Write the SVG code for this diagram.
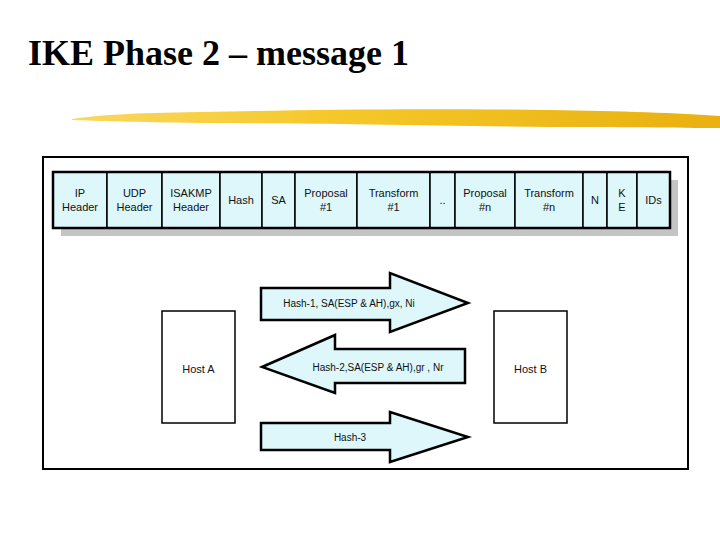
<svg xmlns="http://www.w3.org/2000/svg" width="720" height="540" viewBox="0 0 720 540">
<style>
.cell{fill:#ddf7fb;stroke:#000;stroke-width:1.5}
.ht{font-family:"Liberation Sans",Arial,sans-serif;font-size:11px;fill:#111;text-anchor:middle}
.at{font-family:"Liberation Sans",Arial,sans-serif;font-size:10px;fill:#111;text-anchor:middle}
.arrow{fill:#ddf7fb;stroke:#000;stroke-width:2.5;stroke-linejoin:miter}
.host{fill:#fff;stroke:#000;stroke-width:1.5}
</style>
<defs>
<linearGradient id="brush" x1="0" y1="0" x2="1" y2="0">
<stop offset="0" stop-color="#f9d860"/>
<stop offset="0.4" stop-color="#f5c82a"/>
<stop offset="1" stop-color="#e9b010"/>
</linearGradient>
</defs>
<rect width="720" height="540" fill="#fff"/>
<text x="28" y="65" font-family="'Liberation Serif','Times New Roman',serif" font-weight="bold" font-size="36" fill="#000">IKE Phase 2 – message 1</text>
<path d="M72,119 C100,115 130,113 200,112 C300,110 400,108 550,110 C620,111 680,113 720,116 L720,128 C680,128 620,127 550,127 C400,125 300,123 200,123 C130,122 100,121 72,120 Z" fill="url(#brush)"/>
<rect x="43" y="157" width="645" height="312" fill="none" stroke="#000" stroke-width="2"/>
<g id="header">
<rect x="61" y="180" width="617" height="56" fill="#c4c4c4"/>
<rect x="53" y="172" width="54" height="56" class="cell"/>
<rect x="107" y="172" width="55" height="56" class="cell"/>
<rect x="162" y="172" width="58" height="56" class="cell"/>
<rect x="220" y="172" width="42" height="56" class="cell"/>
<rect x="262" y="172" width="33" height="56" class="cell"/>
<rect x="295" y="172" width="62" height="56" class="cell"/>
<rect x="357" y="172" width="73" height="56" class="cell"/>
<rect x="430" y="172" width="25" height="56" class="cell"/>
<rect x="455" y="172" width="60" height="56" class="cell"/>
<rect x="515" y="172" width="68" height="56" class="cell"/>
<rect x="583" y="172" width="24" height="56" class="cell"/>
<rect x="607" y="172" width="30" height="56" class="cell"/>
<rect x="637" y="172" width="33" height="56" class="cell"/>
<rect x="53" y="172" width="617" height="56" fill="none" stroke="#000" stroke-width="2.5"/>
<text class="ht" x="80" y="197">IP</text><text class="ht" x="80" y="211">Header</text>
<text class="ht" x="134.5" y="197">UDP</text><text class="ht" x="134.5" y="211">Header</text>
<text class="ht" x="191" y="197">ISAKMP</text><text class="ht" x="191" y="211">Header</text>
<text class="ht" x="241" y="204">Hash</text>
<text class="ht" x="278.5" y="204">SA</text>
<text class="ht" x="326" y="197">Proposal</text><text class="ht" x="326" y="211">#1</text>
<text class="ht" x="393.5" y="197">Transform</text><text class="ht" x="393.5" y="211">#1</text>
<text class="ht" x="442.5" y="204">..</text>
<text class="ht" x="485" y="197">Proposal</text><text class="ht" x="485" y="211">#n</text>
<text class="ht" x="549" y="197">Transform</text><text class="ht" x="549" y="211">#n</text>
<text class="ht" x="595" y="204">N</text>
<text class="ht" x="622" y="197">K</text><text class="ht" x="622" y="211">E</text>
<text class="ht" x="653.5" y="204">IDs</text>
</g>
<g id="hostA">
<rect x="162" y="311" width="73" height="112" class="host"/>
<text class="ht" x="198.5" y="373">Host A</text>
</g>
<g id="hostB">
<rect x="494" y="311" width="73" height="112" class="host"/>
<text class="ht" x="530.5" y="373">Host B</text>
</g>
<g id="connectors">
<polygon class="arrow" points="261,288 390,288 390,273 468,303 390,332 390,320 261,320"/>
<text class="at" x="349" y="307">Hash-1, SA(ESP &amp; AH),gx, Ni</text>
<polygon class="arrow" points="465,349 335,349 335,335 262,367 335,393 335,383 465,383"/>
<text class="at" x="378" y="371">Hash-2,SA(ESP &amp; AH),gr , Nr</text>
<polygon class="arrow" points="261,423 390,423 390,412 468,437 390,462 390,450 261,450"/>
<text class="at" x="350" y="441">Hash-3</text>
</g>
</svg>
